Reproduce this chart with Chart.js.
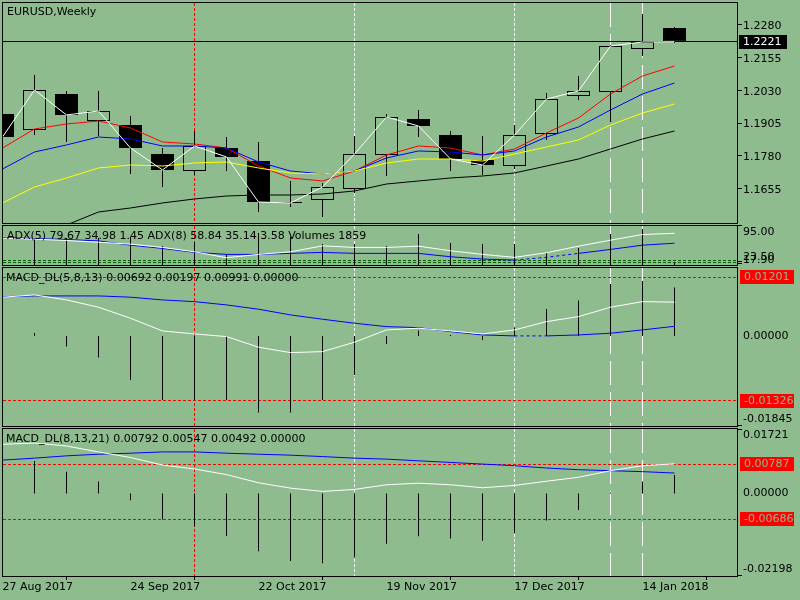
<!DOCTYPE html>
<html>
<head>
<meta charset="utf-8">
<title>EURUSD,Weekly</title>
<script src="https://cdn.jsdelivr.net/npm/chart.js@4.4.1/dist/chart.umd.min.js"></script>
<style>
  html, body { margin: 0; padding: 0; background: #8fbc8f; }
  body { width: 800px; height: 600px; position: relative; overflow: hidden; }
  canvas { position: absolute; left: 0; }
</style>
</head>
<body>
<canvas id="mainChart" width="800" height="225" style="top:0px"></canvas>
<canvas id="adxChart" width="800" height="42" style="top:225px"></canvas>
<canvas id="macd1Chart" width="800" height="161" style="top:267px"></canvas>
<canvas id="macd2Chart" width="800" height="172" style="top:428px"></canvas>
<script>
// weekly bars from 27 Aug 2017, index = bar number
const opens  = [1.19453, 1.18842, 1.20216, 1.19186, 1.19033, 1.17926, 1.17277, 1.18155, 1.17659, 1.16094, 1.16171,
                1.16590, 1.17888, 1.19262, 1.18651, 1.17697, 1.17468, 1.18690, 1.20140, 1.20292, 1.21934, 1.22735];
const highs  = [1.19606, 1.20941, 1.20331, 1.20331, 1.19377, 1.18155, 1.18804, 1.18575, 1.18384, 1.16896, 1.16819,
                1.18613, 1.19453, 1.19606, 1.18804, 1.18613, 1.19033, 1.20254, 1.20903, 1.22090, 1.23270, 1.22773];
const lows   = [1.18384, 1.18651, 1.18384, 1.18613, 1.17163, 1.16667, 1.17125, 1.17277, 1.15712, 1.15903, 1.15521,
                1.16438, 1.17086, 1.18575, 1.17277, 1.17125, 1.17354, 1.18461, 1.19987, 1.19148, 1.21667, 1.22163];
const closes = [1.18575, 1.20369, 1.19415, 1.19568, 1.18155, 1.17315, 1.18232, 1.17812, 1.16094, 1.16056, 1.16667,
                1.17926, 1.19339, 1.18995, 1.17735, 1.17506, 1.18651, 1.20025, 1.20331, 1.22048, 1.22201, 1.2221];

// moving averages on the price window
const maRed    = [1.18155, 1.18880, 1.19071, 1.19186, 1.18919, 1.18384, 1.18308, 1.18155, 1.17468, 1.17010, 1.16896,
                  1.17277, 1.17888, 1.18232, 1.18155, 1.17888, 1.18117, 1.18728, 1.19300, 1.20216, 1.20903, 1.21285];
const maBlue   = [1.17354, 1.18003, 1.18270, 1.18575, 1.18499, 1.18232, 1.18232, 1.18155, 1.17621, 1.17277, 1.17163,
                  1.17277, 1.17774, 1.18041, 1.18003, 1.17888, 1.18041, 1.18575, 1.18957, 1.19606, 1.20216, 1.20636];
const maYellow = [1.16056, 1.16667, 1.17010, 1.17392, 1.17506, 1.17468, 1.17583, 1.17621, 1.17392, 1.17201, 1.17163,
                  1.17277, 1.17583, 1.17735, 1.17735, 1.17659, 1.17926, 1.18193, 1.18460, 1.19033, 1.19491, 1.19835];
const maBlack  = [null, null, 1.15216, 1.15712, 1.15865, 1.16056, 1.16209, 1.16323, 1.16361, 1.16361, 1.16399,
                  1.16514, 1.16781, 1.16896, 1.17010, 1.17086, 1.17201, 1.17468, 1.17735, 1.18117, 1.18499, 1.18804];

// ADX + volumes window
const adxFast = [69.5, 67.5, 64.5, 61.0, 56.9, 50.0, 40.8, 28.3, 35.4, 40.8, 53.3, 50.0, 50.0, 52.7, 42.9, 35.4, 29.2,
                 38.8, 52.7, 65.2, 77.1, 79.67];
const adxSlow = [70.8, 68.75, 66.7, 63.75, 54.8, 47.9, 39.6, 35.4, 35.4, 37.5, 39.6, 37.5, 37.5, 37.5, 30.4, 25.6, 23.5,
                 29.2, 37.5, 45.8, 54.8, 58.84];
const volumes = [19500, 20000, 20000, 20000, 20700, 14100, 17000, 8100, 23700, 20700, 15500, 15500, 14100, 22900,
                 16300, 15500, 15500, 8900, 12600, 22900, 26600, 1859];
const adxLevels = [23.5, 17.9];

// MACD_DL(5,8,13)
const macd1Main   = [0.00793, 0.00840, 0.00737, 0.00588, 0.00362, 0.00102, 0.00041, -0.00014, -0.00231, -0.00342,
                     -0.00322, -0.00129, 0.00123, 0.00158, 0.00102, 0.00041, 0.00123, 0.00293, 0.00395, 0.00588,
                     0.00702, 0.00692];
const macd1Signal = [0.00805, 0.00819, 0.00819, 0.00819, 0.00793, 0.00737, 0.00702, 0.00635, 0.00547, 0.00430,
                     0.00342, 0.00260, 0.00190, 0.00170, 0.00088, 0.00020, 0.00000, 0.00000, 0.00020, 0.00055,
                     0.00123, 0.00197];
const macd1Hist   = [-0.0002, 0.0006, -0.00219, -0.00444, -0.00901, -0.01311, -0.01311, -0.01311, -0.01571, -0.01571,
                     -0.01311, -0.00799, -0.00164, 0.00109, 0.0002, -0.00082, 0.0017, 0.00553, 0.00723, 0.01065,
                     0.01126, 0.00991];
const macd1Levels = [0.01201, -0.01326];

// MACD_DL(8,13,21)
const macd2Main   = [0.01312, 0.01347, 0.01268, 0.01110, 0.00960, 0.00760, 0.00655, 0.00505, 0.00287, 0.00145,
                     0.00058, 0.00110, 0.00234, 0.00276, 0.00234, 0.00155, 0.00216, 0.00329, 0.00434, 0.00610,
                     0.00742, 0.00792];
const macd2Signal = [0.00892, 0.00944, 0.01005, 0.01049, 0.01076, 0.01110, 0.01110, 0.01076, 0.01049, 0.01023,
                     0.00986, 0.00944, 0.00918, 0.00873, 0.00829, 0.00786, 0.00742, 0.00681, 0.00636, 0.00610,
                     0.00584, 0.00547];
const macd2Hist   = [0.0084, 0.0087, 0.0058, 0.0032, -0.0018, -0.0069, -0.0088, -0.0113, -0.0154, -0.0180, -0.0186,
                     -0.0170, -0.0134, -0.0114, -0.0120, -0.0126, -0.0105, -0.0072, -0.0044, 0.0003, 0.0032, 0.00492];
const macd2Levels = [0.00787, -0.00686];

// axes
const dateTickBars   = [0, 4, 8, 12, 16, 20];
const dateTickLabels = ['27 Aug 2017', '24 Sep 2017', '22 Oct 2017', '19 Nov 2017', '17 Dec 2017', '14 Jan 2018'];
const priceTicks = [1.2280, 1.2155, 1.2030, 1.1905, 1.1780, 1.1655];
const priceRange = [1.15292, 1.23689];
const adxRange   = [13.1, 95];
const volRange   = [0, 28860];
const macd1Range = [-0.01845, 0.01391];
const macd2Range = [-0.02198, 0.01721];
const markerBars = [6, 11, 16, 19, 20];   // vertical separators

const titleText = 'EURUSD,Weekly';
const adxText   = 'ADX(5) 79.67 34.98 1.45 ADX(8) 58.84 35.14 3.58 Volumes 1859';
const macd1Text = 'MACD_DL(5,8,13) 0.00692 0.00197 0.00991 0.00000';
const macd2Text = 'MACD_DL(8,13,21) 0.00792 0.00547 0.00492 0.00000';

const BG = '#8fbc8f';
const FONT = "11px 'DejaVu Sans', sans-serif";
// bar i sits at 2.5 + 32*i px, plot spans 3..737
const X_MIN = 0.015625, X_MAX = 22.953125;

Chart.defaults.font.family = "'DejaVu Sans', sans-serif";
Chart.defaults.font.size = 11;
Chart.defaults.color = '#000';

const markerLook = [
  {color: '#ff0000', dash: [3, 2]},
  {color: '#ffffff', dash: [3, 2]},
  {color: '#ffffff', dash: [3, 2]},
  {color: '#ffffff', dash: [24, 7]},
  {color: '#ffffff', dash: [24, 7]}
];

function pts(arr) { return arr.map((v, i) => ({x: i, y: v})); }
function crisp(v) { return Math.round(v - 0.5) + 0.5; }

function line(arr, color, axis, extra) {
  return Object.assign({
    type: 'line', data: pts(arr), borderColor: color, borderWidth: 1,
    pointRadius: 0, tension: 0, fill: false, yAxisID: axis || 'y'
  }, extra || {});
}

function sticks(arr, axis) {
  return {
    type: 'bar', data: pts(arr), backgroundColor: '#000', borderWidth: 0,
    barThickness: 1, grouped: false, inflateAmount: 0, yAxisID: axis || 'y'
  };
}

function xAxis(show) {
  const x = {type: 'linear', min: X_MIN, max: X_MAX, display: false, offset: false};
  if (show) {
    Object.assign(x, {
      display: true, position: 'bottom',
      afterBuildTicks: s => { s.ticks = dateTickBars.map(v => ({value: v})); },
      afterFit: s => { s.height = 24; },
      ticks: {autoSkip: false, maxRotation: 0, minRotation: 0, align: 'start', padding: 1, color: '#000',
              callback: (v, i) => dateTickLabels[i]},
      grid: {display: true, drawOnChartArea: false, drawTicks: true, tickLength: 4, color: '#000', lineWidth: 1},
      border: {display: false}
    });
  }
  return x;
}

function baseOptions(pad, scales) {
  return {
    responsive: false, animation: false, devicePixelRatio: 1,
    layout: {padding: Object.assign({left: 3, right: 63}, pad)},
    plugins: {legend: {display: false}, tooltip: {enabled: false}},
    scales: scales
  };
}

function tickMark(ctx, y) {
  ctx.beginPath(); ctx.moveTo(738, y); ctx.lineTo(742, y); ctx.stroke();
}
function sideText(ctx, text, y) {
  ctx.fillStyle = '#000'; ctx.fillText(text, 743, y);
}
function sideBox(ctx, text, y, fill, ink, x, w) {
  ctx.fillStyle = fill;
  ctx.fillRect(x, Math.round(y - 7), w, 14);
  ctx.fillStyle = ink;
  ctx.fillText(text, x + 4, y);
}

function decor(opt) {
  return {
    id: 'decor',
    beforeDatasetsDraw(chart) {
      const ctx = chart.ctx, a = chart.chartArea;
      ctx.save();
      ctx.lineWidth = 1;
      markerBars.forEach((bar, k) => {
        const x = crisp(chart.scales.x.getPixelForValue(bar));
        ctx.strokeStyle = markerLook[k].color;
        ctx.setLineDash(markerLook[k].dash);
        ctx.beginPath(); ctx.moveTo(x, a.top); ctx.lineTo(x, a.bottom); ctx.stroke();
      });
      (opt.levels || []).forEach(lv => {
        const y = crisp(chart.scales.y.getPixelForValue(lv.value));
        ctx.strokeStyle = lv.color;
        ctx.setLineDash(lv.dash);
        ctx.beginPath(); ctx.moveTo(a.left, y); ctx.lineTo(a.right, y); ctx.stroke();
      });
      ctx.restore();
    },
    afterDraw(chart) {
      const ctx = chart.ctx, a = chart.chartArea;
      ctx.save();
      ctx.strokeStyle = '#000'; ctx.lineWidth = 1; ctx.setLineDash([]);
      ctx.strokeRect(a.left - 0.5, a.top - 0.5, a.right - a.left + 1, a.bottom - a.top + 1);
      ctx.font = FONT; ctx.textBaseline = 'middle'; ctx.textAlign = 'left';
      ctx.fillStyle = '#000';
      ctx.fillText(opt.legend, opt.legendX, a.top + opt.legendDy);
      opt.axis(chart, ctx, a);
      ctx.restore();
    }
  };
}

// ---- price window
const wicks = {
  type: 'bar', data: lows.map((l, i) => ({x: i, y: [l, highs[i]]})),
  backgroundColor: '#000', borderWidth: 0, barThickness: 1, grouped: false, inflateAmount: 0
};
const bodies = {
  type: 'bar', data: opens.map((o, i) => ({x: i, y: [o, closes[i]]})),
  backgroundColor: c => (closes[c.dataIndex] >= opens[c.dataIndex] ? BG : '#000'),
  borderColor: '#000', borderWidth: 1, borderSkipped: false,
  barThickness: 23, grouped: false, inflateAmount: 0
};

new Chart(document.getElementById('mainChart'), {
  type: 'line',
  data: {datasets: [
    line(closes, '#ffffff'),
    line(maBlack, '#000000'),
    line(maYellow, '#ffff00'),
    line(maBlue, '#0000ff'),
    line(maRed, '#ff0000'),
    bodies,
    wicks
  ]},
  options: baseOptions({top: 3, bottom: 2}, {
    x: xAxis(false),
    y: {type: 'linear', display: false, min: priceRange[0], max: priceRange[1]}
  }),
  plugins: [decor({
    legend: titleText, legendX: 7, legendDy: 9,
    levels: [{value: closes[closes.length - 1], color: '#000', dash: []}],
    axis(chart, ctx) {
      const s = chart.scales.y;
      priceTicks.forEach(v => {
        const y = s.getPixelForValue(v);
        tickMark(ctx, crisp(y - 1.5));
        sideText(ctx, v.toFixed(4), y);
      });
      const last = closes[closes.length - 1];
      sideBox(ctx, last.toFixed(4), s.getPixelForValue(last), '#000', '#ffffff', 739, 48);
    }
  })]
});

// ---- ADX / volumes window
const slowDash = c => ((c.p0DataIndex === 16 || c.p0DataIndex === 17) ? [3, 3] : undefined);
new Chart(document.getElementById('adxChart'), {
  type: 'line',
  data: {datasets: [
    line(adxFast, '#ffffff'),
    line(adxSlow, '#0000ff', 'y', {segment: {borderDash: slowDash}}),
    sticks(volumes, 'yv')
  ]},
  options: baseOptions({top: 1, bottom: 2}, {
    x: xAxis(false),
    y: {type: 'linear', display: false, min: adxRange[0], max: adxRange[1]},
    yv: {type: 'linear', display: false, min: volRange[0], max: volRange[1]}
  }),
  plugins: [decor({
    legend: adxText, legendX: 7, legendDy: 10,
    levels: adxLevels.map(v => ({value: v, color: '#006400', dash: [3, 2]})),
    axis(chart, ctx, a) {
      const s = chart.scales.y;
      tickMark(ctx, a.top - 0.5);
      sideText(ctx, adxRange[1].toFixed(2), a.top + 6);
      adxLevels.forEach(v => {
        const y = s.getPixelForValue(v);
        tickMark(ctx, crisp(y + 1));
        sideText(ctx, v.toFixed(2), y - 2.5);
      });
    }
  })]
});

// ---- MACD_DL(5,8,13)
const sigDash = c => (c.p0DataIndex === 16 ? [3, 3] : undefined);
new Chart(document.getElementById('macd1Chart'), {
  type: 'line',
  data: {datasets: [
    line(macd1Main, '#ffffff'),
    line(macd1Signal, '#0000ff', 'y', {segment: {borderDash: sigDash}}),
    sticks(macd1Hist)
  ]},
  options: baseOptions({top: 1, bottom: 2}, {
    x: xAxis(false),
    y: {type: 'linear', display: false, min: macd1Range[0], max: macd1Range[1]}
  }),
  plugins: [decor({
    legend: macd1Text, legendX: 6, legendDy: 10.3,
    levels: macd1Levels.map(v => ({value: v, color: '#ff0000', dash: [3, 2]})),
    axis(chart, ctx, a) {
      const s = chart.scales.y;
      sideText(ctx, (0).toFixed(5), s.getPixelForValue(0));
      tickMark(ctx, a.bottom - 0.5);
      sideText(ctx, macd1Range[0].toFixed(5), a.bottom - 7);
      macd1Levels.forEach(v => sideBox(ctx, v.toFixed(5), s.getPixelForValue(v), '#ff0000', BG, 740, 54));
    }
  })]
});

// ---- MACD_DL(8,13,21) with the date axis
new Chart(document.getElementById('macd2Chart'), {
  type: 'line',
  data: {datasets: [
    line(macd2Main, '#ffffff'),
    line(macd2Signal, '#0000ff'),
    sticks(macd2Hist)
  ]},
  options: baseOptions({top: 1, bottom: 0}, {
    x: xAxis(true),
    y: {type: 'linear', display: false, min: macd2Range[0], max: macd2Range[1]}
  }),
  plugins: [decor({
    legend: macd2Text, legendX: 6, legendDy: 10.3,
    levels: macd2Levels.map(v => ({value: v, color: '#ff0000', dash: [3, 2]})),
    axis(chart, ctx, a) {
      const s = chart.scales.y;
      tickMark(ctx, a.top + 0.5);
      sideText(ctx, macd2Range[1].toFixed(5), a.top + 6);
      sideText(ctx, (0).toFixed(5), s.getPixelForValue(0));
      tickMark(ctx, a.bottom - 0.5);
      sideText(ctx, macd2Range[0].toFixed(5), a.bottom - 7);
      macd2Levels.forEach(v => sideBox(ctx, v.toFixed(5), s.getPixelForValue(v), '#ff0000', BG, 740, 54));
    }
  })]
});
</script>
</body>
</html>
